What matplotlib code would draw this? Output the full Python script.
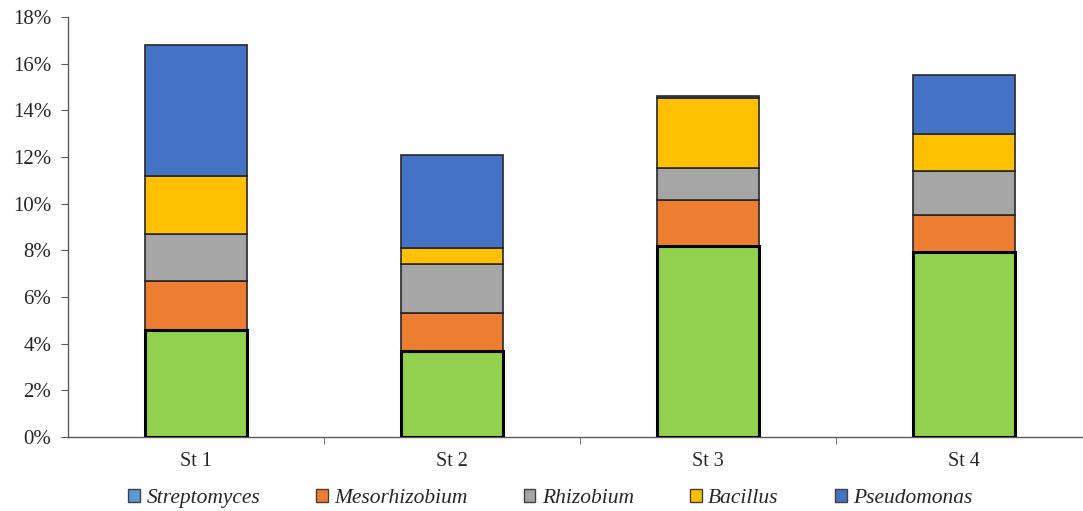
import matplotlib.pyplot as plt
import numpy as np
from matplotlib.patches import Patch
from matplotlib.ticker import PercentFormatter

# stations and stacked segment values (% of isolates)
stations = ["St 1", "St 2", "St 3", "St 4"]
streptomyces = [4.6, 3.7, 8.2, 7.95]
mesorhizobium = [2.1, 1.6, 1.95, 1.55]
rhizobium = [2.0, 2.1, 1.4, 1.9]
bacillus = [2.5, 0.7, 3.0, 1.6]
pseudomonas = [5.6, 4.0, 0.08, 2.5]

plt.rcParams["font.family"] = ["Liberation Serif", "DejaVu Serif"]

fig = plt.figure(figsize=(10.83, 5.11), dpi=100)
ax = fig.add_axes([0.0628, 0.1448, 0.9455, 0.8219])

x = np.arange(len(stations))
width = 0.4

layers = [
    (mesorhizobium, "#ED7D31"),
    (rhizobium, "#A5A5A5"),
    (bacillus, "#FFC000"),
    (pseudomonas, "#4472C4"),
]

bottom = np.array(streptomyces, dtype=float)
for vals, col in layers:
    ax.bar(x, vals, width, bottom=bottom, color=col,
           edgecolor="#262626", linewidth=1.2, zorder=2)
    bottom = bottom + np.array(vals)

# bottom segment drawn last so its heavy outline sits on top
ax.bar(x, streptomyces, width, color="#92D050",
       edgecolor="black", linewidth=2.2, zorder=3)

ax.set_xlim(-0.5, 3.5)
ax.set_ylim(0, 18)
ax.set_yticks(np.arange(0, 19, 2))
ax.yaxis.set_major_formatter(PercentFormatter(decimals=0))

ax.set_xticks(x)
ax.set_xticklabels(stations, fontsize=14.5)
ax.set_xticks([0.5, 1.5, 2.5], minor=True)
ax.tick_params(axis="x", which="major", length=0, pad=11)
ax.tick_params(axis="x", which="minor", length=5, color="#595959")
ax.tick_params(axis="y", length=5, color="#595959", labelsize=15, pad=7,
               labelcolor="#262626")
ax.tick_params(axis="x", labelcolor="#262626")

for side in ["top", "right"]:
    ax.spines[side].set_visible(False)
for side in ["left", "bottom"]:
    ax.spines[side].set_color("#595959")
    ax.spines[side].set_linewidth(1.0)

handles = [
    Patch(facecolor="#5B9BD5", edgecolor="#404040", label="Streptomyces"),
    Patch(facecolor="#ED7D31", edgecolor="#404040", label="Mesorhizobium"),
    Patch(facecolor="#A5A5A5", edgecolor="#404040", label="Rhizobium"),
    Patch(facecolor="#FFC000", edgecolor="#404040", label="Bacillus"),
    Patch(facecolor="#4472C4", edgecolor="#404040", label="Pseudomonas"),
]
leg = fig.legend(
    handles=handles,
    loc="center",
    bbox_to_anchor=(0.508, 0.025),
    ncol=5,
    frameon=False,
    prop={"style": "italic", "size": 15.5},
    handlelength=0.55,
    handleheight=0.55,
    handletextpad=0.3,
    columnspacing=2.6,
)
for t in leg.get_texts():
    t.set_color("#262626")

fig.savefig("out.png", dpi=100)
plt.close(fig)
